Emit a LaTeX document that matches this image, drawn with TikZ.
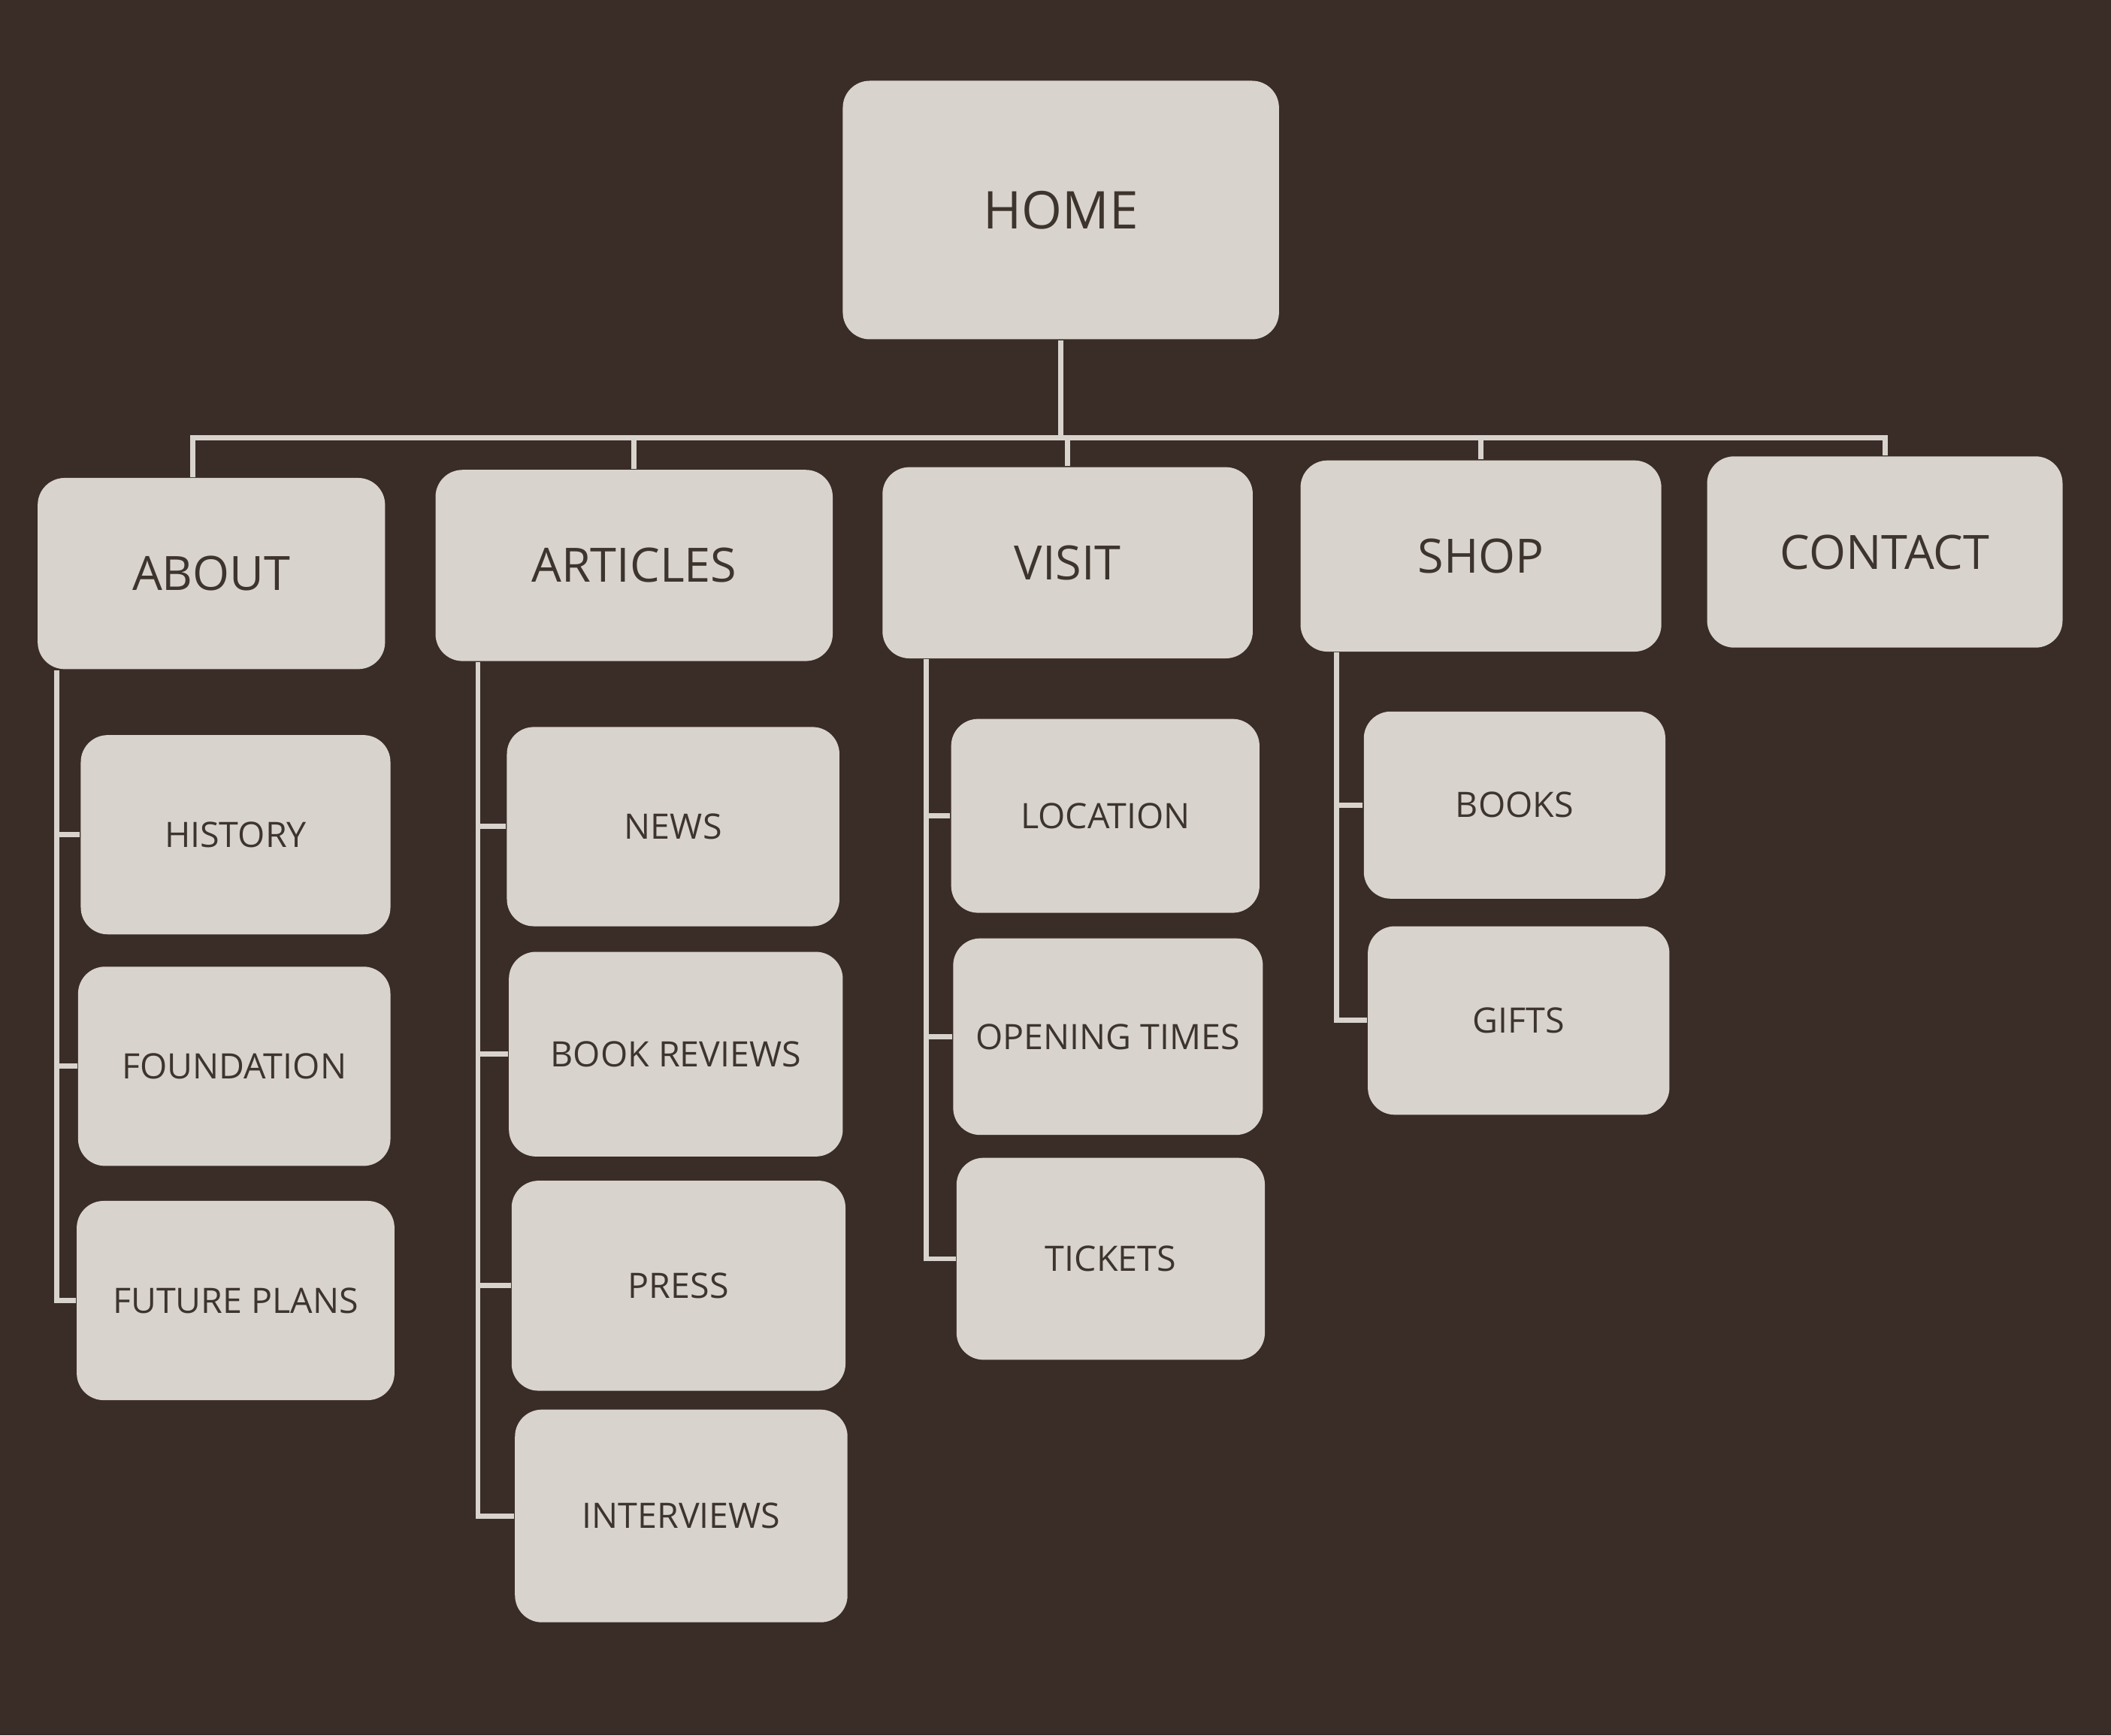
\documentclass[tikz,border=0pt]{standalone}
\usepackage{fontspec}
\setmainfont{Open Sans}
\definecolor{board}{HTML}{3A2D27}
\definecolor{cardgrey}{HTML}{D9D3CD}
\definecolor{ink}{HTML}{3D342E}

\begin{document}
\begin{tikzpicture}[x=0.1mm,y=-0.1mm,
  card/.style={fill=cardgrey, rounded corners=2mm, text=ink, inner sep=0pt},
  top/.style={card, minimum width=32.4mm, minimum height=19.2mm, font=\fontsize{11}{13}\selectfont},
  sect/.style={card, minimum height=14.2mm, font=\fontsize{10}{12}\selectfont},
  page/.style={card, minimum height=14.8mm, font=\fontsize{7.4}{9}\selectfont},
  link/.style={draw=cardgrey, line width=1.1pt}]
\fill[board] (0,0) rectangle (1568,1289);

\node(home) at (788,156) [top]{HOME};

\node(about) at (157,426) [sect, minimum width=25.8mm]{ABOUT};
\node(articles) at (471,420) [sect, minimum width=29.5mm]{ARTICLES};
\node(visit) at (793,418) [sect, minimum width=27.5mm]{VISIT};
\node(shop) at (1100,413) [sect, minimum width=26.8mm]{SHOP};
\node(contact) at (1400,410) [sect, minimum width=26.4mm]{CONTACT};

\node(history) at (175,620) [page, minimum width=23.0mm]{HISTORY};
\node(foundation) at (174,792) [page, minimum width=23.2mm]{FOUNDATION};
\node(future) at (175,966) [page, minimum width=23.6mm]{FUTURE PLANS};

\node(news) at (500,614) [page, minimum width=24.7mm]{NEWS};
\node(reviews) at (502,783) [page, minimum width=24.8mm, minimum height=15.2mm]{BOOK REVIEWS};
\node(press) at (504,955) [page, minimum width=24.8mm, minimum height=15.6mm]{PRESS};
\node(interviews) at (506,1126) [page, minimum width=24.7mm, minimum height=15.8mm]{INTERVIEWS};

\node(location) at (821,606) [page, minimum width=22.9mm, minimum height=14.4mm]{LOCATION};
\node(opening) at (823,770) [page, minimum width=23.0mm, minimum height=14.6mm]{OPENING TIMES};
\node(tickets) at (825,935) [page, minimum width=22.9mm, minimum height=15.0mm]{TICKETS};

\node(books) at (1125,598) [page, minimum width=22.4mm, minimum height=13.9mm]{BOOKS};
\node(gifts) at (1128,758) [page, minimum width=22.4mm, minimum height=14.0mm]{GIFTS};

% top level bar
\coordinate(bar) at (0,325);
\coordinate(d1) at (143,0);
\draw [link] (about.north -| d1) |- (contact.north |- bar) -- (contact.north);
\draw [link] (home.south) -- (home.south |- bar);
\draw [link] (articles.north) -- (articles.north |- bar);
\draw [link] (visit.north) -- (visit.north |- bar);
\draw [link] (shop.north) -- (shop.north |- bar);

% trunks
\coordinate(t1) at (42,0);
\coordinate(t2) at (355,0);
\coordinate(t3) at (688,0);
\coordinate(t4) at (993,0);

\draw [link] (about.south -| t1) |- (future.west);
\draw [link] (t1 |- history) -- (history.west);
\draw [link] (t1 |- foundation) -- (foundation.west);

\draw [link] (articles.south -| t2) |- (interviews.west);
\draw [link] (t2 |- news) -- (news.west);
\draw [link] (t2 |- reviews) -- (reviews.west);
\draw [link] (t2 |- press) -- (press.west);

\draw [link] (visit.south -| t3) |- (tickets.west);
\draw [link] (t3 |- location) -- (location.west);
\draw [link] (t3 |- opening) -- (opening.west);

\draw [link] (shop.south -| t4) |- (gifts.west);
\draw [link] (t4 |- books) -- (books.west);

\end{tikzpicture}
\end{document}
